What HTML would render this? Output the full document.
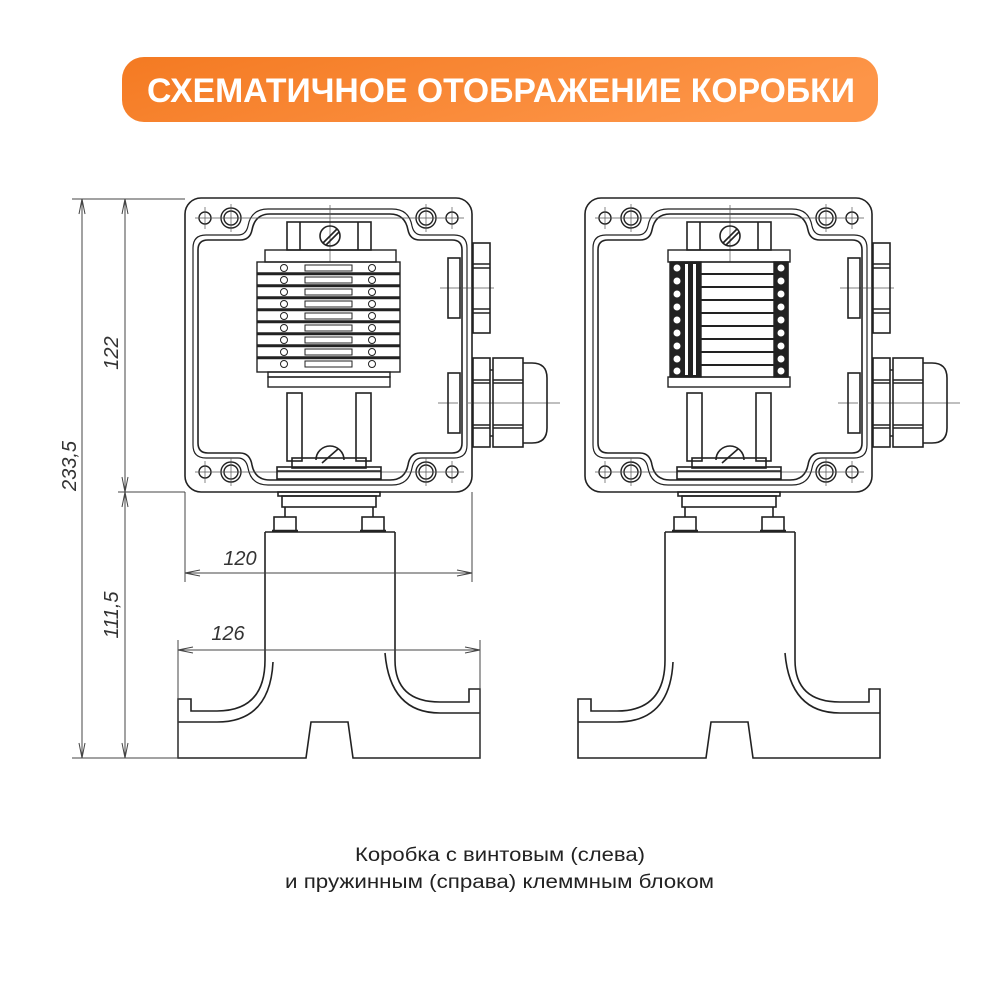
<!DOCTYPE html>
<html><head><meta charset="utf-8"><style>
html,body{margin:0;padding:0;background:#fff;}
svg{display:block}
</style></head><body>
<svg width="1000" height="1000" viewBox="0 0 1000 1000" xmlns="http://www.w3.org/2000/svg">
<defs>
<linearGradient id="g" x1="0" y1="0" x2="1" y2="0.3">
<stop offset="0" stop-color="#f47a22"/><stop offset="1" stop-color="#fd9548"/>
</linearGradient>
<g id="box" fill="none" stroke="#222" stroke-width="1.6">
  <rect x="185" y="198" width="287" height="294" rx="16"/>
  <path d="M208,240 H240 Q250,240 252,230 Q255,214 270,214 H390 Q405,214 408,230 Q410,240 420,240 H452 Q462,240 462,250 V443 Q462,453 452,453 H420 Q410,453 408,465 Q405,480 390,480 H270 Q255,480 252,465 Q250,453 240,453 H208 Q198,453 198,443 V250 Q198,240 208,240 Z"/>
  <path d="M206,235 H238 Q246,235 248,226 Q251,209 268,209 H392 Q409,209 412,226 Q414,235 422,235 H454 Q467,235 467,248 V445 Q467,458 454,458 H422 Q414,458 412,468 Q409,485 392,485 H268 Q251,485 248,468 Q246,458 238,458 H206 Q193,458 193,445 V248 Q193,235 206,235 Z" stroke-width="1.2"/>
  <g stroke-width="1.4">
   <circle cx="205" cy="218" r="6"/><circle cx="231" cy="218" r="10"/><circle cx="231" cy="218" r="7"/>
   <circle cx="452" cy="218" r="6"/><circle cx="426" cy="218" r="10"/><circle cx="426" cy="218" r="7"/>
   <circle cx="205" cy="472" r="6"/><circle cx="231" cy="472" r="10"/><circle cx="231" cy="472" r="7"/>
   <circle cx="452" cy="472" r="6"/><circle cx="426" cy="472" r="10"/><circle cx="426" cy="472" r="7"/>
  </g>
  <g stroke-width="0.7" stroke="#555">
   <path d="M195,218 H464 M205,207 V229 M231,204 V232 M426,204 V232 M452,207 V229 M195,472 H464 M205,461 V483 M231,458 V486 M426,458 V486 M452,461 V483"/>
   <path d="M330,205 V262 M440,288 H494 M438,403 H458 M468,403 H560"/>
  </g>
  <rect x="287" y="222" width="84" height="28"/>
  <path d="M300,222 V250 M358,222 V250"/>
  <circle cx="330" cy="236" r="10"/><path d="M323,243 L337,229 M326,245 L339,232"/>
  <rect x="287" y="393" width="15" height="68"/><rect x="356" y="393" width="15" height="68"/>
  <path d="M316,460 A14,14 0 0 1 344,460" /><path d="M322,463 L338,449"/>
  <rect x="292" y="458" width="74" height="10"/>
  <rect x="277" y="467" width="104" height="12"/><path d="M277,471 H381"/>
  <rect x="448" y="258" width="12" height="60"/><rect x="448" y="373" width="12" height="60"/>
  <rect x="473" y="243" width="17" height="90"/><path d="M473,264 H490 M473,268 H490 M473,309 H490 M473,313 H490"/>
  <rect x="473" y="358" width="17" height="89"/><path d="M473,380 H490 M473,383 H490 M473,425 H490 M473,428 H490"/>
  <rect x="493" y="358" width="30" height="89"/><path d="M493,380 H523 M493,383 H523 M493,425 H523 M493,428 H523 M490,370 H493 M490,436 H493"/>
  <path d="M523,363 H532 Q547,363 547,378 V428 Q547,443 532,443 H523"/>
  <rect x="278" y="492" width="102" height="4"/>
  <rect x="282" y="496" width="94" height="11"/>
  <path d="M285,507 V517 M373,507 V517"/>
  <rect x="274" y="517" width="22" height="14"/><rect x="362" y="517" width="22" height="14"/>
  <path d="M272,531 H298 M360,531 H386" stroke-width="2.4"/>
  <path d="M265,532 H395 M265,532 V660 Q265,711 217,711 H191 V699 H178 V758 H306 L311,722 H348 L353,758 H480 V689 H469 V702 H440 Q395,702 395,660 V532"/>
  <path d="M178,722 H217 Q270,722 273,662 M480,713 H440 Q390,713 385,653"/>
</g>
</defs>

<rect x="122" y="57" width="756" height="65" rx="22" fill="url(#g)"/>
<text x="147" y="102" textLength="708" lengthAdjust="spacingAndGlyphs" font-family="Liberation Sans, DejaVu Sans, sans-serif" font-weight="bold" font-size="34" fill="#fff">СХЕМАТИЧНОЕ ОТОБРАЖЕНИЕ КОРОБКИ</text>

<use href="#box"/>
<use href="#box" transform="translate(400,0)"/>

<g fill="none" stroke="#222" stroke-width="1.4">
  <rect x="265" y="250" width="131" height="12"/>
  <rect x="257" y="262" width="143" height="110"/>
  <path d="M257,273 H400 M257,274.5 H400 M257,285 H400 M257,286.5 H400 M257,297 H400 M257,298.5 H400 M257,309 H400 M257,310.5 H400 M257,321 H400 M257,322.5 H400 M257,333 H400 M257,334.5 H400 M257,345 H400 M257,346.5 H400 M257,357 H400 M257,358.5 H400"/>
  <g stroke-width="1">
  <circle cx="284" cy="268" r="3.5"/><circle cx="284" cy="280" r="3.5"/><circle cx="284" cy="292" r="3.5"/><circle cx="284" cy="304" r="3.5"/><circle cx="284" cy="316" r="3.5"/><circle cx="284" cy="328" r="3.5"/><circle cx="284" cy="340" r="3.5"/><circle cx="284" cy="352" r="3.5"/><circle cx="284" cy="364" r="3.5"/>
  <circle cx="372" cy="268" r="3.5"/><circle cx="372" cy="280" r="3.5"/><circle cx="372" cy="292" r="3.5"/><circle cx="372" cy="304" r="3.5"/><circle cx="372" cy="316" r="3.5"/><circle cx="372" cy="328" r="3.5"/><circle cx="372" cy="340" r="3.5"/><circle cx="372" cy="352" r="3.5"/><circle cx="372" cy="364" r="3.5"/>
  <rect x="305" y="265" width="47" height="6"/><rect x="305" y="277" width="47" height="6"/><rect x="305" y="289" width="47" height="6"/><rect x="305" y="301" width="47" height="6"/><rect x="305" y="313" width="47" height="6"/><rect x="305" y="325" width="47" height="6"/><rect x="305" y="337" width="47" height="6"/><rect x="305" y="349" width="47" height="6"/><rect x="305" y="361" width="47" height="6"/>
  </g>
  <rect x="268" y="372" width="122" height="5"/>
  <rect x="268" y="377" width="122" height="10"/>
</g>

<g fill="none" stroke="#222" stroke-width="1.4">
  <rect x="668" y="250" width="122" height="12"/>
  <rect x="670" y="262" width="118" height="115"/>
  <rect x="671" y="262" width="30" height="115" fill="#222"/>
  <rect x="774" y="262" width="14" height="115" fill="#222"/>
  <path d="M701,274 H774 M701,287 H774 M701,300 H774 M701,313 H774 M701,326 H774 M701,339 H774 M701,352 H774 M701,365 H774" stroke-width="2"/>
  <g fill="#fff" stroke="none">
   <circle cx="677" cy="268" r="3.5"/><circle cx="677" cy="281" r="3.5"/><circle cx="677" cy="294" r="3.5"/><circle cx="677" cy="307" r="3.5"/><circle cx="677" cy="320" r="3.5"/><circle cx="677" cy="333" r="3.5"/><circle cx="677" cy="346" r="3.5"/><circle cx="677" cy="359" r="3.5"/><circle cx="677" cy="371" r="3.5"/>
   <circle cx="781" cy="268" r="3.5"/><circle cx="781" cy="281" r="3.5"/><circle cx="781" cy="294" r="3.5"/><circle cx="781" cy="307" r="3.5"/><circle cx="781" cy="320" r="3.5"/><circle cx="781" cy="333" r="3.5"/><circle cx="781" cy="346" r="3.5"/><circle cx="781" cy="359" r="3.5"/><circle cx="781" cy="371" r="3.5"/>
   <rect x="685" y="264" width="3" height="111"/><rect x="693" y="264" width="3" height="111"/>
  </g>
  <rect x="668" y="377" width="122" height="10"/>
</g>

<g fill="none" stroke="#444" stroke-width="1">
  <path d="M72,199 H185 M118,492 H185 M72,758 H178"/>
  <path d="M82,199 V758 M125,199 V758"/>
  <path d="M79,214 L82,199 L85,214 M79,743 L82,758 L85,743 M122,214 L125,199 L128,214 M122,477 L125,492 L128,477 M122,507 L125,492 L128,507 M122,743 L125,758 L128,743"/>
  <path d="M185,492 V582 M472,492 V582 M185,573 H472 M200,570 L185,573 L200,576 M457,570 L472,573 L457,576"/>
  <path d="M178,640 V758 M480,640 V758 M178,650 H480 M193,647 L178,650 L193,653 M465,647 L480,650 L465,653"/>
</g>
<g font-family="Liberation Sans, DejaVu Sans, sans-serif" font-size="20" font-style="italic" fill="#333">
  <text x="0" y="0" transform="translate(118,353) rotate(-90)" text-anchor="middle">122</text>
  <text x="0" y="0" transform="translate(76,466) rotate(-90)" text-anchor="middle">233,5</text>
  <text x="0" y="0" transform="translate(118,615) rotate(-90)" text-anchor="middle">111,5</text>
  <text x="240" y="565" text-anchor="middle">120</text>
  <text x="228" y="640" text-anchor="middle">126</text>
</g>

<g font-family="Liberation Sans, DejaVu Sans, sans-serif" font-size="19" fill="#222">
  <text x="355" y="861" textLength="290" lengthAdjust="spacingAndGlyphs">Коробка с винтовым (слева)</text>
  <text x="285" y="888" textLength="429" lengthAdjust="spacingAndGlyphs">и пружинным (справа) клеммным блоком</text>
</g>
</svg>
</body></html>
